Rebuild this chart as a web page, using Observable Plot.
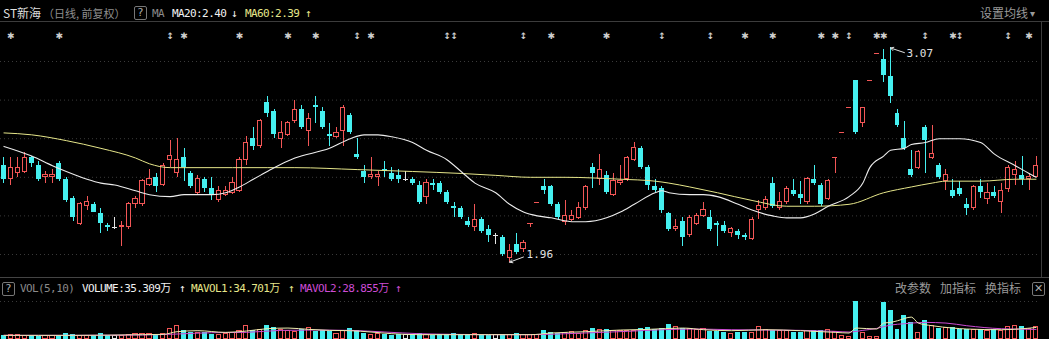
<!DOCTYPE html>
<html><head><meta charset="utf-8">
<script src="https://cdn.jsdelivr.net/npm/d3@7"></script>
<script src="https://cdn.jsdelivr.net/npm/@observablehq/plot@0.6"></script>
<style>
html,body{margin:0;padding:0;background:#000;}
#wrap{position:relative;width:1049px;height:339px;overflow:hidden;background:#000;}
.t{position:absolute;white-space:nowrap;line-height:14px;}
.cjk{font-family:"Noto Sans CJK SC",sans-serif;font-size:12px;}
.mono{font-family:"DejaVu Sans Mono","Noto Sans CJK SC",monospace;font-size:11px;letter-spacing:-0.6px;}
.box{position:absolute;box-sizing:border-box;border:1px solid #777;border-radius:2px;color:#aaa;font:11px "DejaVu Sans",sans-serif;text-align:center;line-height:12px;}
.hl{position:absolute;height:1px;background:#444;}
#price,#vol{position:absolute;left:0;}
</style></head><body>
<div id="wrap">
  <div class="hl" style="left:0;top:21px;width:1049px;background:#3c3c3c"></div>
  <div class="hl" style="left:0;top:277px;width:1049px;"></div>
  <div style="position:absolute;left:1041px;top:21px;width:1px;height:256px;background:#3c3c3c"></div>
  <div id="price" style="top:22px"></div>
  <div id="vol" style="top:277px"></div>
  <div id="hdr"></div>
</div>
<script>
// ---------- data ----------
const open = [
2.46,2.39,2.42,2.43,2.50,2.46,2.40,2.40,2.47,2.39,
2.29,2.16,2.25,2.26,2.21,2.15,2.14,2.14,2.14,2.26,
2.26,2.36,2.40,2.36,2.49,2.42,2.50,2.42,2.32,2.39,
2.34,2.28,2.31,2.32,2.33,2.49,2.60,2.56,2.79,2.74,
2.60,2.62,2.69,2.75,2.64,2.77,2.74,2.62,2.61,2.64,
2.72,2.52,2.43,2.40,2.40,2.44,2.42,2.41,2.39,2.39,
2.36,2.30,2.37,2.37,2.32,2.25,2.24,2.17,2.14,2.18,
2.13,2.10,2.09,1.98,2.05,2.03,2.16,2.27,2.35,2.35,
2.26,2.17,2.18,2.19,2.24,2.45,2.39,2.41,2.31,2.37,
2.39,2.49,2.55,2.45,2.35,2.34,2.21,2.13,2.17,2.10,
2.16,2.20,2.19,2.16,2.15,2.11,2.12,2.10,2.08,2.23,
2.24,2.37,2.24,2.27,2.33,2.31,2.27,2.39,2.36,2.29,
2.50,2.63,2.76,2.90,2.68,2.90,3.04,3.01,2.92,2.73,
2.60,2.44,2.45,2.66,2.50,2.46,2.38,2.33,2.34,2.26,
2.24,2.35,2.29,2.32,2.27,2.34,2.41,2.41,2.39,2.40];
const high = [
2.50,2.50,2.50,2.53,2.51,2.48,2.43,2.44,2.48,2.40,
2.30,2.27,2.30,2.27,2.24,2.16,2.19,2.17,2.27,2.30,
2.39,2.44,2.42,2.47,2.59,2.60,2.55,2.43,2.41,2.40,
2.40,2.35,2.35,2.40,2.50,2.61,2.66,2.70,2.82,2.75,
2.69,2.69,2.80,2.77,2.73,2.82,2.76,2.68,2.66,2.77,
2.73,2.60,2.46,2.50,2.43,2.48,2.45,2.44,2.43,2.40,
2.38,2.39,2.39,2.38,2.33,2.27,2.25,2.19,2.26,2.19,
2.15,2.11,2.10,2.05,2.11,2.07,2.16,2.27,2.39,2.36,
2.27,2.28,2.23,2.27,2.36,2.47,2.52,2.43,2.42,2.46,
2.51,2.58,2.56,2.46,2.39,2.35,2.22,2.18,2.19,2.20,
2.21,2.27,2.23,2.17,2.17,2.14,2.13,2.11,2.19,2.28,
2.30,2.40,2.32,2.35,2.39,2.38,2.40,2.46,2.37,2.39,
2.50,2.63,2.76,2.90,2.76,2.90,3.04,3.06,3.07,2.75,
2.69,2.54,2.54,2.67,2.67,2.47,2.44,2.39,2.38,2.29,
2.36,2.39,2.37,2.35,2.37,2.46,2.48,2.51,2.42,2.51];
const low = [
2.37,2.36,2.40,2.42,2.45,2.38,2.37,2.37,2.38,2.27,
2.17,2.15,2.23,2.22,2.11,2.12,2.13,2.04,2.13,2.24,
2.25,2.35,2.32,2.35,2.45,2.40,2.38,2.34,2.31,2.32,
2.28,2.27,2.30,2.31,2.32,2.46,2.54,2.55,2.71,2.60,
2.55,2.61,2.68,2.65,2.56,2.68,2.65,2.56,2.60,2.56,
2.62,2.49,2.37,2.39,2.35,2.40,2.38,2.37,2.38,2.36,
2.26,2.26,2.33,2.31,2.26,2.19,2.18,2.14,2.12,2.11,
2.06,2.05,1.99,1.96,2.00,2.01,2.14,2.27,2.31,2.25,
2.18,2.15,2.17,2.18,2.23,2.34,2.36,2.31,2.30,2.36,
2.38,2.48,2.44,2.33,2.32,2.21,2.12,2.12,2.04,2.09,
2.15,2.19,2.12,2.04,2.11,2.09,2.08,2.07,2.07,2.18,
2.23,2.24,2.23,2.26,2.30,2.26,2.26,2.36,2.25,2.28,
2.42,2.63,2.76,2.62,2.66,2.90,3.04,2.89,2.78,2.66,
2.54,2.40,2.44,2.42,2.49,2.39,2.33,2.29,2.30,2.20,
2.23,2.29,2.26,2.29,2.21,2.32,2.36,2.36,2.33,2.40];
const close = [
2.39,2.45,2.45,2.50,2.47,2.39,2.41,2.41,2.39,2.28,
2.19,2.26,2.27,2.22,2.16,2.14,2.14,2.15,2.26,2.29,
2.38,2.39,2.35,2.46,2.51,2.49,2.45,2.35,2.39,2.34,
2.31,2.33,2.33,2.37,2.49,2.58,2.56,2.69,2.73,2.62,
2.63,2.68,2.75,2.66,2.70,2.76,2.66,2.61,2.63,2.76,
2.63,2.50,2.40,2.41,2.41,2.43,2.39,2.39,2.39,2.37,
2.27,2.37,2.36,2.32,2.27,2.24,2.19,2.15,2.18,2.12,
2.10,2.10,2.00,2.02,2.01,2.06,2.16,2.27,2.33,2.26,
2.19,2.20,2.20,2.24,2.35,2.42,2.44,2.32,2.38,2.38,
2.50,2.55,2.45,2.36,2.33,2.23,2.13,2.14,2.09,2.19,
2.20,2.23,2.13,2.15,2.12,2.13,2.10,2.09,2.18,2.25,
2.28,2.25,2.27,2.34,2.31,2.29,2.39,2.37,2.26,2.38,
2.50,2.63,2.76,2.63,2.76,2.90,3.04,2.93,2.82,2.67,
2.55,2.41,2.53,2.59,2.52,2.40,2.41,2.30,2.31,2.24,
2.35,2.32,2.32,2.30,2.33,2.45,2.44,2.39,2.40,2.46];
// volume, 万股
const volume = [
11,11,11,10,10,8,8,8,10,17,
13,10,8,10,18,10,8,10,13,15,
15,15,11,15,31,40,25,21,18,21,
13,13,15,18,23,40,25,28,40,35,
28,25,21,28,33,23,25,23,15,23,
31,25,18,13,16,15,11,13,11,13,
18,13,11,13,13,18,15,13,15,11,
11,11,13,13,18,13,11,11,26,20,
18,18,20,16,23,31,28,28,25,25,
25,25,31,35,28,31,43,35,31,31,
28,31,23,23,20,15,20,20,18,35,
28,25,23,23,20,20,23,26,25,26,
20,10,6,113,18,6,6,110,86,30,
71,50,18,56,38,33,33,36,28,28,
28,28,25,28,25,36,38,38,31,35.309];
// moving averages (bar index, value)
const ma20Idx = [0,4,7,9,12,14,16,19,21,24,26,28,30,32,34,36,37,39,42,47,50,52,54,56,59,61,64,66,68,71,73,75,77,79,82,84,87,89,91,94,95,96,99,101,103,106,108,111,113,115,117,119,122,124,125,127,128,130,131,133,135,136,138,141,143,146,148,149];
const ma20Val = [2.56,2.51,2.46,2.43,2.39,2.37,2.36,2.33,2.31,2.30,2.31,2.31,2.31,2.32,2.35,2.39,2.41,2.45,2.50,2.55,2.60,2.62,2.62,2.61,2.58,2.54,2.49,2.43,2.37,2.32,2.26,2.22,2.20,2.19,2.17,2.17,2.19,2.22,2.26,2.32,2.33,2.32,2.31,2.31,2.30,2.26,2.23,2.20,2.19,2.19,2.21,2.25,2.30,2.37,2.45,2.51,2.54,2.55,2.57,2.58,2.60,2.60,2.60,2.58,2.52,2.46,2.42,2.40];
const ma60Idx = [0,4,9,14,19,21,24,26,33,38,42,51,59,66,71,76,81,89,94,96,99,103,108,113,117,122,127,131,134,136,141,146,149];
const ma60Val = [2.63,2.62,2.59,2.55,2.50,2.47,2.45,2.45,2.45,2.45,2.45,2.44,2.43,2.42,2.41,2.40,2.40,2.39,2.38,2.37,2.35,2.32,2.28,2.25,2.25,2.26,2.32,2.35,2.37,2.38,2.38,2.39,2.39];
const mavol1Idx = [0,10,20,23,25,28,32,35,38,41,44,47,50,53,56,60,70,76,79,84,89,93,98,101,105,110,115,120,122,123,126,127,128,129,131,132,134,137,139,144,149];
const mavol1Val = [11,11,13,14,22,25,20,24,31,33,29,26,25,21,16,13,13,13,18,22,27,29,33,28,25,28,25,20,18,33,30,48,50,55,66,48,40,33,30,28,34.701];
const mavol2Idx = [0,10,20,25,30,35,40,45,50,55,60,65,70,76,80,85,90,95,100,105,110,115,120,122,124,126,128,130,133,136,139,144,149];
const mavol2Val = [11,11,12,15,19,20,26,27,26,21,16,14,13,13,15,19,23,28,30,28,27,26,23,21,26,32,42,46,50,48,40,31,28.855];
// legend direction arrows as shown: MA20, MA60, VOLUME, MAVOL1, MAVOL2
const legendArrows = ["↓", "↑", "↑", "↑", "↑"];
// event markers in the top row
const starIdx = [1,8,26,34,41,45,53,79,87,107,111,118,120,126,127,137,148];
const eventIdx = [24,51,64,65,75,95,102,122,133,138,145];
const gridPrices = [2.0,2.2,2.4,2.6,2.8,3.0];
const stockName = "ST新海";
const periodLabel = "（日线, 前复权）";

// ---------- styling ----------
const RED = "#f25656", CYAN = "#45f0f0", WHITE = "#e6e6e6";
const MA20C = "#ececec", MA60C = "#e6e68a", MV1C = "#eeeeb0", MV2C = "#cc4cd4";
const W = 1049;

const bars = close.map((c, i) => {
  const o = open[i], prev = i > 0 ? close[i - 1] : o;
  const dir = c > o ? "up" : c < o ? "down" : (c > prev ? "up" : c < prev ? "down" : "flat");
  return {i, o, h: high[i], l: low[i], c, v: volume[i], dir};
});
const colorOf = d => d.dir === "up" ? RED : d.dir === "down" ? CYAN : WHITE;
const pts = (idx, val) => idx.map((x, k) => ({x, v: val[k]}));

const xScale = {domain: [-0.5, close.length - 0.5], axis: null};
const common = {width: W, marginLeft: 0, marginRight: 10, marginTop: 0, marginBottom: 0,
  style: {background: "none", color: "#ccc", overflow: "visible"}};

const iMax = d3.maxIndex(high), iMin = d3.minIndex(low);
const bodyUp = bars.filter(d => d.o !== d.c && d.dir === "up");
const bodyDown = bars.filter(d => d.o !== d.c && d.dir === "down");
const flat = bars.filter(d => d.o === d.c);

const price = Plot.plot({
  ...common, height: 255,
  x: xScale,
  y: {domain: [1.8808, 3.2021], axis: null},
  marks: [
    Plot.ruleY(gridPrices, {stroke: "#3a3a3a", strokeDasharray: "1,3"}),
    Plot.ruleX(bars, {x: "i", y1: "l", y2: "h", stroke: colorOf, shapeRendering: "crispEdges"}),
    Plot.rect(bodyUp, {x1: d => d.i - 0.3, x2: d => d.i + 0.3, y1: "o", y2: "c", fill: "#000", stroke: RED, shapeRendering: "crispEdges"}),
    Plot.rect(bodyDown, {x1: d => d.i - 0.36, x2: d => d.i + 0.36, y1: "o", y2: "c", fill: CYAN, shapeRendering: "crispEdges"}),
    Plot.ruleY(flat, {y: "c", x1: d => d.i - 0.38, x2: d => d.i + 0.38, stroke: colorOf, shapeRendering: "crispEdges"}),
    Plot.line(pts(ma60Idx, ma60Val), {x: "x", y: "v", stroke: MA60C, strokeWidth: 1, curve: "monotone-x"}),
    Plot.line(pts(ma20Idx, ma20Val), {x: "x", y: "v", stroke: MA20C, strokeWidth: 1.1, curve: "monotone-x"}),
    Plot.text(starIdx, {x: d => d, frameAnchor: "top", dy: 10, text: () => "✱", fill: "#cfcfcf", fontSize: 9, fontFamily: "DejaVu Sans"}),
    Plot.text(eventIdx, {x: d => d, frameAnchor: "top", dy: 10, text: () => "↕", fill: "#cfcfcf", fontSize: 9, fontWeight: "bold", fontFamily: "DejaVu Sans"}),
    Plot.arrow([bars[iMax]], {x1: d => d.i + 2, y1: d => d.h - 0.024, x2: "i", y2: "h", stroke: "#e0e0e0", strokeWidth: 1, headLength: 5}),
    Plot.text([bars[iMax]], {x: "i", y: "h", text: d => d.h.toFixed(2), dx: 16, dy: 5.5, textAnchor: "start", fill: "#e0e0e0", fontSize: 11, fontFamily: "DejaVu Sans Mono"}),
    Plot.arrow([bars[iMin]], {x1: d => d.i + 2, y1: d => d.l + 0.027, x2: "i", y2: "l", stroke: "#e0e0e0", strokeWidth: 1, headLength: 5}),
    Plot.text([bars[iMin]], {x: "i", y: "l", text: d => d.l.toFixed(2), dx: 17, dy: -7.5, textAnchor: "start", fill: "#e0e0e0", fontSize: 11, fontFamily: "DejaVu Sans Mono"})
  ]
});
document.getElementById("price").appendChild(price);

const vUp = bars.filter(d => d.dir === "up"), vDown = bars.filter(d => d.dir === "down"), vFlat = bars.filter(d => d.dir === "flat");
const vol = Plot.plot({
  ...common, height: 62, marginBottom: 0.5,
  x: xScale,
  y: {domain: [0, 185.3], axis: null},
  marks: [
    Plot.ruleY([d3.max(volume)], {stroke: "#3a3a3a", strokeDasharray: "1,3"}),
    Plot.rect(vUp, {x1: d => d.i - 0.3, x2: d => d.i + 0.3, y1: 0, y2: "v", fill: "#000", stroke: RED, shapeRendering: "crispEdges"}),
    Plot.rect(vDown, {x1: d => d.i - 0.36, x2: d => d.i + 0.36, y1: 0, y2: "v", fill: CYAN, shapeRendering: "crispEdges"}),
    Plot.rect(vFlat, {x1: d => d.i - 0.3, x2: d => d.i + 0.3, y1: 0, y2: "v", fill: "#000", stroke: WHITE, shapeRendering: "crispEdges"}),
    Plot.line(pts(mavol2Idx, mavol2Val), {x: "x", y: "v", stroke: MV2C, strokeWidth: 1, curve: "monotone-x"}),
    Plot.line(pts(mavol1Idx, mavol1Val), {x: "x", y: "v", stroke: MV1C, strokeWidth: 1, curve: "monotone-x"})
  ]
});
document.getElementById("vol").appendChild(vol);

// ---------- header texts ----------
const last = a => a[a.length - 1];
const hdr = [
  {l: 3, t: 6, cls: "cjk", c: "#dedede", s: stockName},
  {l: 43, t: 6, cls: "cjk", c: "#8e8e8e", s: periodLabel, fs: 11},
  {l: 152, t: 7, cls: "mono", c: "#8a8a8a", s: "MA"},
  {l: 172, t: 7, cls: "mono", c: "#f2f2f2", s: "MA20:" + last(ma20Val).toFixed(2)},
  {l: 231, t: 7, cls: "mono", c: "#f2f2f2", s: legendArrows[0]},
  {l: 245, t: 7, cls: "mono", c: MA60C, s: "MA60:" + last(ma60Val).toFixed(2)},
  {l: 305, t: 7, cls: "mono", c: MA60C, s: legendArrows[1]},
  {l: 980, t: 6, cls: "cjk", c: "#9a9a9a", s: "设置均线"},
  {l: 1030, t: 6, cls: "cjk", c: "#9a9a9a", s: "▾", fs: 10},
  {l: 20, t: 282, cls: "mono", c: "#8a8a8a", s: "VOL(5,10)"},
  {l: 82, t: 282, cls: "mono", c: "#f2f2f2", s: "VOLUME:" + last(volume).toFixed(3) + "万"},
  {l: 179, t: 282, cls: "mono", c: "#f2f2f2", s: legendArrows[2]},
  {l: 191, t: 282, cls: "mono", c: MA60C, s: "MAVOL1:" + last(mavol1Val).toFixed(3) + "万"},
  {l: 288, t: 282, cls: "mono", c: MA60C, s: legendArrows[3]},
  {l: 300, t: 282, cls: "mono", c: MV2C, s: "MAVOL2:" + last(mavol2Val).toFixed(3) + "万"},
  {l: 395, t: 282, cls: "mono", c: MV2C, s: legendArrows[4]},
  {l: 895, t: 281, cls: "cjk", c: "#9a9a9a", s: "改参数"},
  {l: 940, t: 281, cls: "cjk", c: "#9a9a9a", s: "加指标"},
  {l: 985, t: 281, cls: "cjk", c: "#9a9a9a", s: "换指标"}
];
const H = document.getElementById("hdr");
for (const h of hdr) {
  const e = document.createElement("span");
  e.className = "t " + h.cls;
  e.style.left = h.l + "px"; e.style.top = h.t + "px"; e.style.color = h.c;
  if (h.fs) e.style.fontSize = h.fs + "px";
  e.textContent = h.s;
  H.appendChild(e);
}
const boxes = [{l: 134, t: 6, s: "?"}, {l: 2, t: 282, s: "?"}, {l: 1032, t: 282, s: "✕"}];
for (const b of boxes) {
  const e = document.createElement("div");
  e.className = "box";
  e.style.cssText += `left:${b.l}px;top:${b.t}px;width:13px;height:14px;`;
  e.textContent = b.s;
  H.appendChild(e);
}
</script>
</body></html>
